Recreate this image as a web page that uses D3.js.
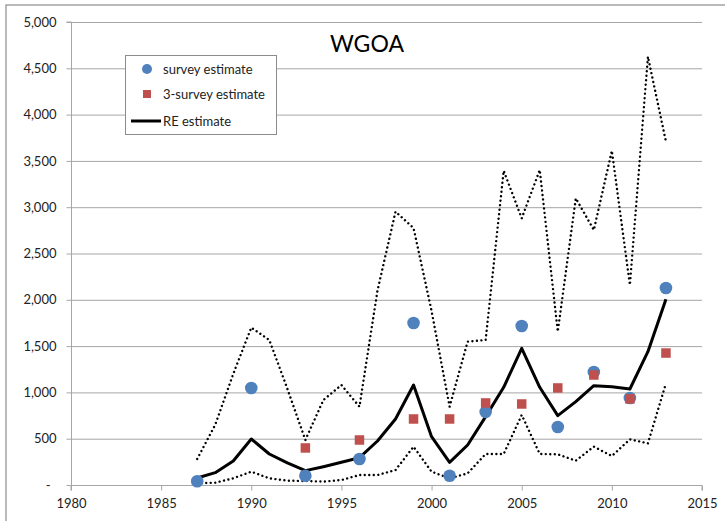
<!DOCTYPE html>
<html><head><meta charset="utf-8">
<script src="https://cdn.jsdelivr.net/npm/d3@7/dist/d3.min.js"></script>
<style>
html,body{margin:0;padding:0;background:#fff;}
svg{display:block;font-family:Lato,"Liberation Sans",sans-serif;}
</style></head>
<body>
<svg id="chart" width="725" height="521"></svg>
<script>
const years = d3.range(1987, 2014);
const reEstimate = [75,133,259,497,335,238,155,198,245,295,475,713,1080,522,245,432,738,1055,1476,1055,749,900,1073,1062,1037,1440,2005];
const upperCI = [281,650,1200,1700,1566,1040,486,918,1080,846,2100,2952,2775,1880,846,1548,1566,3394,2880,3402,1656,3096,2754,3610,2160,4626,3708];
const lowerCI = [18,25,72,144,72,47,43,36,54,108,108,162,414,144,72,126,335,335,756,335,331,263,414,313,493,450,1098];
const surveyYears = [1987,1990,1993,1996,1999,2001,2003,2005,2007,2009,2011,2013];
const surveyEst = [40,1048,100,280,1750,100,790,1717,626,1220,940,2128];
const threeYears = [1993,1996,1999,2001,2003,2005,2007,2009,2011,2013];
const threeEst = [400,486,713,713,886,875,1048,1188,930,1425];
const xTicks = [1980,1985,1990,1995,2000,2005,2010,2015];
const yTicks = [0,500,1000,1500,2000,2500,3000,3500,4000,4500,5000];
const title = "WGOA";
const legendLabels = ["survey estimate","3-survey estimate","RE estimate"];

const svg = d3.select("#chart");
const L = 71, R = 702, T = 22, B = 485;
const x = d3.scaleLinear().domain([1980,2015]).range([L,R]);
const y = d3.scaleLinear().domain([0,5000]).range([B,T]);

// chart border
svg.append("rect").attr("x",6).attr("y",5).attr("width",740).attr("height",540)
  .attr("fill","none").attr("stroke","#8c8c8c").attr("stroke-width",1.2);

// gridlines
svg.append("g").selectAll("line").data(yTicks.filter(d=>d>0)).join("line")
  .attr("x1",L).attr("x2",R).attr("y1",d=>y(d)+0.5).attr("y2",d=>y(d)+0.5)
  .attr("stroke","#a6a6a6").attr("stroke-width",1);

// y axis
const fmt = d => d===0 ? "-" : d3.format(",")(d);
const yAxis = d3.axisLeft(y).tickValues(yTicks).tickFormat(fmt).tickSize(5).tickPadding(10);
const gy = svg.append("g").attr("transform",`translate(${L+0.5},0)`).call(yAxis);
gy.select(".domain").attr("stroke","#a6a6a6").attr("d",`M-5,${T}H0V${B}`);
gy.selectAll(".tick line").attr("stroke","#a6a6a6");
gy.selectAll(".tick text").attr("font-size",13).attr("fill","#222").attr("font-family","Lato");
gy.selectAll(".tick").filter(d=>d===0).select("text").attr("dx",-6);

// x axis
const xAxis = d3.axisBottom(x).tickValues(xTicks).tickFormat(d3.format("d")).tickSize(5).tickPadding(8);
const gx = svg.append("g").attr("transform",`translate(0,${B+0.5})`).call(xAxis);
gx.select(".domain").attr("stroke","#a6a6a6").attr("d",`M${L},5V0H${R}V5`);
gx.selectAll(".tick line").attr("stroke","#a6a6a6");
gx.selectAll(".tick text").attr("font-size",13).attr("fill","#222").attr("font-family","Lato");

// lines
const line = d3.line().x((d,i)=>x(years[i])).y(d=>y(d));
[upperCI, lowerCI].forEach(arr => {
  svg.append("path").datum(arr).attr("d",line).attr("fill","none")
    .attr("stroke","#000").attr("stroke-width",2.4).attr("stroke-linecap","round")
    .attr("stroke-dasharray","0.01,4.5");
});
svg.append("path").datum(reEstimate).attr("d",line).attr("fill","none")
  .attr("stroke","#000").attr("stroke-width",3).attr("stroke-linejoin","round");

// survey circles
svg.append("g").selectAll("circle").data(surveyEst).join("circle")
  .attr("cx",(d,i)=>x(surveyYears[i])).attr("cy",d=>y(d)).attr("r",6.3)
  .attr("fill","#4F81BD");
// 3-survey squares
const s = 9.5;
svg.append("g").selectAll("rect").data(threeEst).join("rect")
  .attr("x",(d,i)=>x(threeYears[i])-s/2).attr("y",d=>y(d)-s/2).attr("width",s).attr("height",s)
  .attr("fill","#C0504D");

// title
svg.append("text").attr("x",367).attr("y",52).attr("text-anchor","middle")
  .attr("font-size",23).attr("fill","#000").attr("font-family","Lato").text(title);

// legend
const lg = svg.append("g");
lg.append("rect").attr("x",125.5).attr("y",55.5).attr("width",151).attr("height",79)
  .attr("fill","#fff").attr("stroke","#8c8c8c").attr("stroke-width",1);
lg.append("circle").attr("cx",147).attr("cy",69).attr("r",5).attr("fill","#4F81BD");
lg.append("rect").attr("x",143).attr("y",90).attr("width",8).attr("height",8).attr("fill","#C0504D");
lg.append("line").attr("x1",131).attr("x2",161).attr("y1",121).attr("y2",121).attr("stroke","#000").attr("stroke-width",3);
lg.selectAll("text").data(legendLabels).join("text")
  .attr("x",163).attr("y",(d,i)=>[73.5,98.5,125.5][i]).attr("font-size",13)
  .attr("fill","#222").attr("font-family","Lato").text(d=>d);
</script>
</body></html>
